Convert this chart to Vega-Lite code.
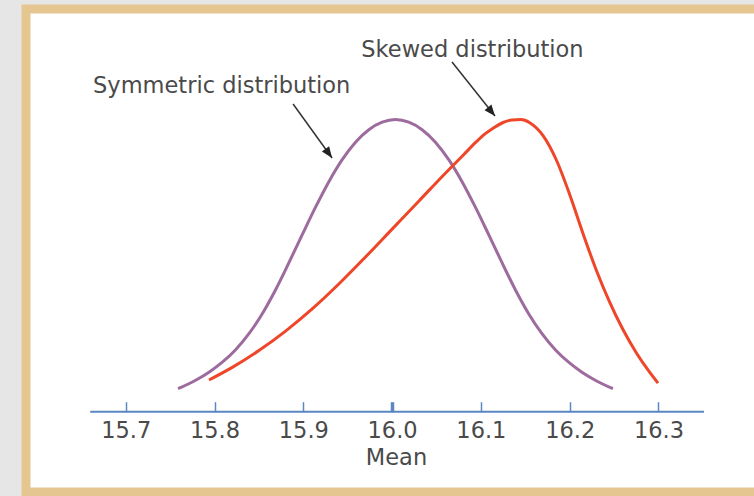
{
  "$schema": "https://vega.github.io/schema/vega-lite/v6.json",
  "width": 740,
  "height": 483,
  "autosize": "none",
  "padding": {"left": 26, "top": 9, "right": 0, "bottom": 4},
  "background": "#e6e6e6",
  "config": {
    "view": {"fill": "#ffffff", "stroke": "#e6c690", "strokeWidth": 9},
    "font": "DejaVu Sans"
  },
  "datasets": {
    "curves": [
      {"series": "Symmetric", "x": 15.7589, "y": 23},
      {"series": "Symmetric", "x": 15.7788, "y": 31.5},
      {"series": "Symmetric", "x": 15.7938, "y": 39.5},
      {"series": "Symmetric", "x": 15.8088, "y": 49.5},
      {"series": "Symmetric", "x": 15.8238, "y": 62},
      {"series": "Symmetric", "x": 15.8388, "y": 78},
      {"series": "Symmetric", "x": 15.8538, "y": 98},
      {"series": "Symmetric", "x": 15.8688, "y": 122},
      {"series": "Symmetric", "x": 15.8838, "y": 149},
      {"series": "Symmetric", "x": 15.8988, "y": 177},
      {"series": "Symmetric", "x": 15.9138, "y": 204.5},
      {"series": "Symmetric", "x": 15.9288, "y": 230},
      {"series": "Symmetric", "x": 15.9438, "y": 252},
      {"series": "Symmetric", "x": 15.9588, "y": 269.5},
      {"series": "Symmetric", "x": 15.9738, "y": 282},
      {"series": "Symmetric", "x": 15.9888, "y": 289.5},
      {"series": "Symmetric", "x": 16.0038, "y": 292.2},
      {"series": "Symmetric", "x": 16.0188, "y": 289.5},
      {"series": "Symmetric", "x": 16.0338, "y": 282},
      {"series": "Symmetric", "x": 16.0488, "y": 269.5},
      {"series": "Symmetric", "x": 16.0638, "y": 252},
      {"series": "Symmetric", "x": 16.0788, "y": 230},
      {"series": "Symmetric", "x": 16.0938, "y": 204.5},
      {"series": "Symmetric", "x": 16.1088, "y": 177},
      {"series": "Symmetric", "x": 16.1238, "y": 149},
      {"series": "Symmetric", "x": 16.1388, "y": 122},
      {"series": "Symmetric", "x": 16.1538, "y": 98},
      {"series": "Symmetric", "x": 16.1688, "y": 78},
      {"series": "Symmetric", "x": 16.1838, "y": 62},
      {"series": "Symmetric", "x": 16.1988, "y": 49.5},
      {"series": "Symmetric", "x": 16.2138, "y": 39.5},
      {"series": "Symmetric", "x": 16.2288, "y": 31.5},
      {"series": "Symmetric", "x": 16.2487, "y": 23},
      {"series": "Skewed", "x": 15.7938, "y": 31.7},
      {"series": "Skewed", "x": 15.82, "y": 44.3},
      {"series": "Skewed", "x": 15.85, "y": 61.1},
      {"series": "Skewed", "x": 15.88, "y": 80.6},
      {"series": "Skewed", "x": 15.91, "y": 102.8},
      {"series": "Skewed", "x": 15.94, "y": 127.7},
      {"series": "Skewed", "x": 15.97, "y": 154.7},
      {"series": "Skewed", "x": 16.0, "y": 182.6},
      {"series": "Skewed", "x": 16.03, "y": 210.5},
      {"series": "Skewed", "x": 16.06, "y": 238.5},
      {"series": "Skewed", "x": 16.08, "y": 256.5},
      {"series": "Skewed", "x": 16.095, "y": 270},
      {"series": "Skewed", "x": 16.105, "y": 278},
      {"series": "Skewed", "x": 16.115, "y": 284.3},
      {"series": "Skewed", "x": 16.125, "y": 289.2},
      {"series": "Skewed", "x": 16.135, "y": 291.8},
      {"series": "Skewed", "x": 16.145, "y": 292.1},
      {"series": "Skewed", "x": 16.155, "y": 289},
      {"series": "Skewed", "x": 16.17, "y": 276.1},
      {"series": "Skewed", "x": 16.185, "y": 251.7},
      {"series": "Skewed", "x": 16.2, "y": 217.2},
      {"series": "Skewed", "x": 16.215, "y": 178.2},
      {"series": "Skewed", "x": 16.23, "y": 141.5},
      {"series": "Skewed", "x": 16.245, "y": 109.6},
      {"series": "Skewed", "x": 16.26, "y": 82.2},
      {"series": "Skewed", "x": 16.275, "y": 59},
      {"series": "Skewed", "x": 16.29, "y": 39.5},
      {"series": "Skewed", "x": 16.2995, "y": 28.6}
    ],
    "arrows": [
      {"name": "Symmetric", "x": 15.8885, "y": 307.7, "x2": 15.9324, "y2": 253.7},
      {"name": "Skewed", "x": 16.0675, "y": 349.7, "x2": 16.1159, "y2": 295.7}
    ],
    "labels": [
      {"label": "Skewed distribution", "x": 16.0905, "y": 354.7},
      {"label": "Symmetric distribution", "x": 15.8081, "y": 318.4}
    ],
    "axisline": [
      {"x": 15.66, "x2": 16.3513, "y": 0}
    ]
  },
  "encoding": {
    "x": {
      "field": "x",
      "type": "quantitative",
      "scale": {"domain": [15.5877, 16.4211], "nice": false, "zero": false},
      "axis": {
        "values": [15.7, 15.8, 15.9, 16.0, 16.1, 16.2, 16.3],
        "format": ".1f",
        "offset": -80.3,
        "domain": false,
        "grid": false,
        "tickSize": -10,
        "tickColor": "#5b86c4",
        "tickWidth": {"condition": {"test": "datum.value === 16", "value": 3.5}, "value": 1.5},
        "labelPadding": 17.6,
        "labelFont": "DejaVu Sans",
        "labelFontSize": 22.5,
        "labelColor": "#4a4a4a",
        "title": "Mean",
        "titleFont": "DejaVu Sans",
        "titleFontSize": 22.5,
        "titleFontWeight": "normal",
        "titleColor": "#4a4a4a",
        "titlePadding": 4.5
      }
    },
    "y": {
      "field": "y",
      "type": "quantitative",
      "scale": {"domain": [-80.3, 402.7], "nice": false, "zero": false},
      "axis": null
    }
  },
  "layer": [
    {
      "data": {"name": "axisline"},
      "mark": {"type": "rule", "color": "#5b86c4", "strokeWidth": 2},
      "encoding": {"x2": {"field": "x2"}}
    },
    {
      "data": {"name": "curves"},
      "mark": {"type": "line", "strokeWidth": 3, "interpolate": "monotone"},
      "encoding": {
        "color": {
          "field": "series",
          "type": "nominal",
          "scale": {"domain": ["Symmetric", "Skewed"], "range": ["#9d6b9e", "#ef4529"]},
          "legend": null
        }
      }
    },
    {
      "data": {"name": "arrows"},
      "mark": {"type": "rule", "color": "#333333", "strokeWidth": 1.5},
      "encoding": {"x2": {"field": "x2"}, "y2": {"field": "y2"}}
    },
    {
      "data": {"name": "arrows"},
      "mark": {"type": "point", "filled": true, "color": "#222222", "opacity": 1, "shape": "M0,0L0.4,1L-0.4,1Z", "size": 500},
      "encoding": {
        "x": {"field": "x2", "type": "quantitative"},
        "y": {"field": "y2", "type": "quantitative"},
        "angle": {"field": "name", "type": "nominal", "scale": {"domain": ["Symmetric", "Skewed"], "range": [144, 141]}, "legend": null}
      }
    },
    {
      "data": {"name": "labels"},
      "mark": {"type": "text", "font": "DejaVu Sans", "fontSize": 22.5, "color": "#4a4a4a", "align": "center", "baseline": "alphabetic"},
      "encoding": {"text": {"field": "label"}}
    }
  ]
}
